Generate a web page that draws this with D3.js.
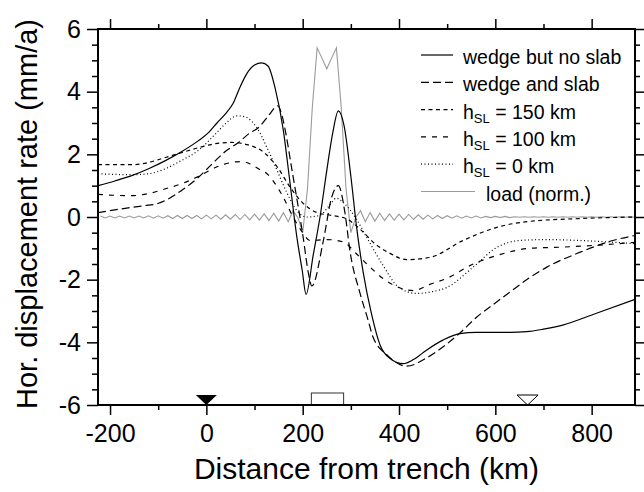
<!DOCTYPE html>
<html>
<head>
<meta charset="utf-8">
<script src="https://cdn.jsdelivr.net/npm/d3@7"></script>
<style>
  body { margin: 0; background: #fff; }
  text { font-family: "Liberation Sans", Arial, Helvetica, sans-serif; }
</style>
</head>
<body>
<div id="chart"></div>
<script>
// data: [distance km, rate mm/a]
const wedgeNoSlab = [[-225, 1.0], [-190, 1.15], [-155, 1.32], [-120, 1.54], [-85, 1.8], [-50, 2.1], [-17, 2.43], [5, 2.7], [22, 3.0], [40, 3.3], [56, 3.64], [70, 4.15], [85, 4.6], [100, 4.85], [115, 4.92], [128, 4.82], [143, 4.1], [160, 2.75], [172, 1.3], [188, -0.65], [199, -1.7], [207, -2.47], [222, -1.2], [236, 0.0], [250, 1.48], [262, 2.65], [274, 3.39], [286, 2.91], [300, 1.3], [312, -0.33], [326, -1.8], [343, -3.1], [361, -4.1], [380, -4.5], [409, -4.68], [430, -4.55], [457, -4.25], [491, -3.93], [526, -3.72], [561, -3.68], [630, -3.68], [665, -3.66], [700, -3.58], [740, -3.45], [810, -3.07], [890, -2.63]];
const wedgeAndSlab = [[-225, 0.14], [-172, 0.27], [-130, 0.36], [-101, 0.43], [-85, 0.53], [-52, 0.84], [-17, 1.26], [19, 1.8], [40, 2.1], [66, 2.37], [91, 2.69], [108, 2.85], [130, 3.25], [148, 3.55], [156, 3.3], [164, 2.75], [178, 1.48], [184, 0.94], [201, -0.65], [212, -1.8], [219, -2.2], [243, -0.75], [260, 0.62], [274, 1.0], [288, 0.11], [298, -1.07], [319, -2.43], [336, -3.3], [346, -3.83], [375, -4.4], [416, -4.76], [457, -4.5], [491, -4.15], [526, -3.71], [561, -3.2], [595, -2.8], [630, -2.4], [670, -1.95], [707, -1.6], [775, -1.13], [844, -0.75], [890, -0.59]];
const hsl150 = [[-225, 1.67], [-155, 1.67], [-120, 1.74], [-85, 1.9], [-52, 2.05], [-17, 2.21], [19, 2.34], [52, 2.38], [87, 2.3], [118, 2.08], [147, 1.6], [174, 0.95], [200, 0.45], [230, 0.14], [260, 0.05], [290, -0.05], [320, -0.4], [350, -0.85], [380, -1.15], [416, -1.36], [464, -1.29], [533, -0.75], [603, -0.33], [671, -0.14], [775, -0.05], [890, 0.0]];
const hsl100 = [[-225, 0.72], [-155, 0.68], [-120, 0.75], [-85, 0.9], [-52, 1.06], [-17, 1.29], [19, 1.58], [52, 1.74], [73, 1.77], [90, 1.7], [108, 1.54], [126, 1.38], [143, 1.06], [160, 0.62], [180, 0.0], [200, -0.5], [215, -0.75], [250, -0.72], [285, -0.8], [310, -1.15], [340, -1.6], [370, -2.0], [400, -2.25], [430, -2.35], [464, -2.15], [499, -1.96], [554, -1.5], [603, -1.23], [671, -1.0], [740, -0.96], [810, -0.9], [890, -0.81]];
const hsl0 = [[-225, 1.38], [-155, 1.35], [-120, 1.38], [-85, 1.54], [-52, 1.8], [-17, 2.12], [19, 2.65], [39, 2.97], [64, 3.23], [80, 3.2], [93, 3.07], [105, 2.85], [126, 2.21], [147, 1.48], [168, 0.75], [188, 0.2], [209, 0.0], [235, 0.05], [255, 0.35], [270, 0.6], [285, 0.45], [313, -0.1], [333, -0.65], [365, -1.5], [400, -2.25], [437, -2.44], [470, -2.38], [499, -2.25], [554, -1.6], [603, -0.97], [651, -0.75], [707, -0.72], [775, -0.75], [890, -0.85]];

// normalized load, sampled every 10 km from -220 km
const loadKm = d3.range(-220, 891, 10);
const loadValues = [
  0.03, -0.03, 0.03, -0.03, 0.03, -0.03, 0.03, -0.03, 0.03, -0.03, 0.04, -0.04, 0.04,
  -0.04, 0.04, -0.05, 0.05, -0.05, 0.05, -0.05, 0.05, -0.06, 0.06,
  -0.06, 0.06, -0.07, 0.07, -0.07, 0.08, -0.08, 0.08, -0.09, 0.09,
  -0.1, 0.1, -0.11, 0.12, -0.13, 0.14, -0.15, 0.2,
  -0.02, -0.5, 0.9, 3.5, 5.4, 5.07, 4.73, 5.07, 5.4, 3.5, 0.9, -0.5, -0.02,
  0.2, -0.15, 0.14, -0.13, 0.12, -0.11, 0.1, -0.1, 0.09, -0.09, 0.08, -0.08, 0.07, -0.07,
  0.06, -0.06, 0.05, -0.05, 0.04, -0.04, 0.04, -0.04, 0.03, -0.03, 0.03, -0.03, 0.02, -0.02,
  0.02, -0.02, 0.02, -0.02, 0.01, -0.01, 0.01, -0.01, 0.01, -0.01, 0.01, -0.01, 0.01, -0.01,
  0.01, -0.01, 0.01, -0.01, 0.01, -0.01, 0.01, -0.01, 0.01, -0.01, 0.01, -0.01, 0.01, -0.01,
  0.01, -0.01
];

const xMajor = [-200, 0, 200, 400, 600, 800];
const xMinor = [-100, 100, 300, 500, 700];
const yMajor = [-6, -4, -2, 0, 2, 4, 6];
const yMinor = d3.range(-6, 6.01, 0.5).filter((v) => v % 2 !== 0);

const trenchKm = 0;
const arcKm = 667;
const loadBox = [218, 285];

(() => {
  const margin = { top: 29, right: 9, bottom: 87, left: 98 };
  const width = 644 - margin.left - margin.right;
  const height = 492 - margin.top - margin.bottom;

  const svg = d3
    .select("#chart")
    .append("svg")
    .attr("width", 644)
    .attr("height", 492)
    .append("g")
    .attr("transform", `translate(${margin.left},${margin.top})`);

  const x = d3.scaleLinear().domain([-225, 890]).range([0, width]);
  const y = d3.scaleLinear().domain([-6, 6]).range([height, 0]);

  const clip = svg.append("clipPath").attr("id", "clip");
  clip.append("rect").attr("width", width).attr("height", height);

  // plain hyphen for negatives, like the original
  const fmt = (d) => String(d);

  // axes: major + minor ticks on all four sides, pointing outward
  const styleAxis = (g) => {
    g.select(".domain").remove();
    g.selectAll(".tick line").attr("stroke", "#000").attr("stroke-width", 1.5);
    g.selectAll(".tick text").style("font-size", "25px").attr("fill", "#000");
  };

  svg.append("g")
    .attr("transform", `translate(0,${height})`)
    .call(d3.axisBottom(x).tickValues(xMajor).tickSize(10).tickPadding(9).tickFormat(fmt))
    .call(styleAxis);
  svg.append("g")
    .attr("transform", `translate(0,${height})`)
    .call(d3.axisBottom(x).tickValues(xMinor).tickSize(5).tickFormat(""))
    .call(styleAxis);
  svg.append("g")
    .call(d3.axisTop(x).tickValues(xMajor).tickSize(10).tickFormat(""))
    .call(styleAxis);
  svg.append("g")
    .call(d3.axisTop(x).tickValues(xMinor).tickSize(5).tickFormat(""))
    .call(styleAxis);

  svg.append("g")
    .call(d3.axisLeft(y).tickValues(yMajor).tickSize(11).tickPadding(6).tickFormat(fmt))
    .call(styleAxis);
  svg.append("g")
    .call(d3.axisLeft(y).tickValues(yMinor).tickSize(6).tickFormat(""))
    .call(styleAxis);
  svg.append("g")
    .attr("transform", `translate(${width},0)`)
    .call(d3.axisRight(y).tickValues(yMajor).tickSize(10).tickFormat(""))
    .call(styleAxis);
  svg.append("g")
    .attr("transform", `translate(${width},0)`)
    .call(d3.axisRight(y).tickValues(yMinor).tickSize(5).tickFormat(""))
    .call(styleAxis);

  // curves
  const smooth = d3.line()
    .x((d) => x(d[0]))
    .y((d) => y(d[1]))
    .curve(d3.curveMonotoneX);
  const straight = d3.line()
    .x((d) => x(d[0]))
    .y((d) => y(d[1]));

  const plot = svg.append("g").attr("clip-path", "url(#clip)");

  const loadData = loadKm.map((k, i) => [k, loadValues[i]]);
  plot.append("path")
    .datum(loadData)
    .attr("fill", "none")
    .attr("stroke", "#9a9a9a")
    .attr("stroke-width", 1.1)
    .attr("d", straight);

  const series = [
    { data: wedgeNoSlab, dash: null },
    { data: wedgeAndSlab, dash: "8,4" },
    { data: hsl150, dash: "4,3.5" },
    { data: hsl100, dash: "5,6" },
    { data: hsl0, dash: "1,2.5" },
  ];

  series.forEach((s) => {
    plot.append("path")
      .datum(s.data)
      .attr("fill", "none")
      .attr("stroke", "#000")
      .attr("stroke-width", 1.2)
      .attr("stroke-dasharray", s.dash)
      .attr("d", smooth);
  });

  // markers along the bottom axis
  const y0 = y(-6);
  const tri = 10.5;
  svg.append("path")
    .attr("d", `M${x(trenchKm) - tri},${y0 - 10}L${x(trenchKm) + tri},${y0 - 10}L${x(trenchKm)},${y0}Z`)
    .attr("fill", "#000");
  svg.append("path")
    .attr("d", `M${x(arcKm) - tri},${y0 - 10}L${x(arcKm) + tri},${y0 - 10}L${x(arcKm)},${y0}Z`)
    .attr("fill", "#fff")
    .attr("stroke", "#000")
    .attr("stroke-width", 1);
  svg.append("rect")
    .attr("x", x(loadBox[0]))
    .attr("y", y0 - 12)
    .attr("width", x(loadBox[1]) - x(loadBox[0]))
    .attr("height", 12)
    .attr("fill", "#fff")
    .attr("stroke", "#333")
    .attr("stroke-width", 1);

  // frame
  svg.append("rect")
    .attr("width", width)
    .attr("height", height)
    .attr("fill", "none")
    .attr("stroke", "#000")
    .attr("stroke-width", 2);

  // axis titles
  svg.append("text")
    .attr("x", width / 2)
    .attr("y", height + 74)
    .attr("text-anchor", "middle")
    .style("font-size", "30px")
    .text("Distance from trench (km)");

  svg.append("text")
    .attr("transform", "rotate(-90)")
    .attr("x", -height / 2 + 3)
    .attr("y", -61)
    .attr("text-anchor", "middle")
    .style("font-size", "29px")
    .text("Hor. displacement rate (mm/a)");

  // legend
  const legendItems = [
    { label: ["wedge but no slab"], dash: null, grey: false },
    { label: ["wedge and slab"], dash: "8,4", grey: false },
    { label: ["h", "SL", " = 150 km"], dash: "4,3.5", grey: false },
    { label: ["h", "SL", " = 100 km"], dash: "5,6", grey: false },
    { label: ["h", "SL", " = 0 km"], dash: "1,2.5", grey: false },
    { label: ["load (norm.)"], dash: null, grey: true },
  ];

  const legend = svg.append("g")
    .attr("transform", `translate(${421 - margin.left},${55 - margin.top})`);

  legendItems.forEach((item, i) => {
    const g = legend.append("g").attr("transform", `translate(0,${i * 27.3})`);
    g.append("line")
      .attr("x1", 0)
      .attr("x2", item.grey ? 54 : 32)
      .attr("stroke", item.grey ? "#9a9a9a" : "#000")
      .attr("stroke-width", 1.2)
      .attr("stroke-dasharray", item.dash);
    const t = g.append("text")
      .attr("x", item.grey ? 65 : 42)
      .attr("y", 9)
      .style("font-size", "19.5px");
    t.append("tspan").text(item.label[0]);
    if (item.label.length > 1) {
      t.append("tspan").attr("dy", 4).style("font-size", "13px").text(item.label[1]);
      t.append("tspan").attr("dy", -4).text(item.label[2]);
    }
  });
})();
</script>
</body>
</html>
